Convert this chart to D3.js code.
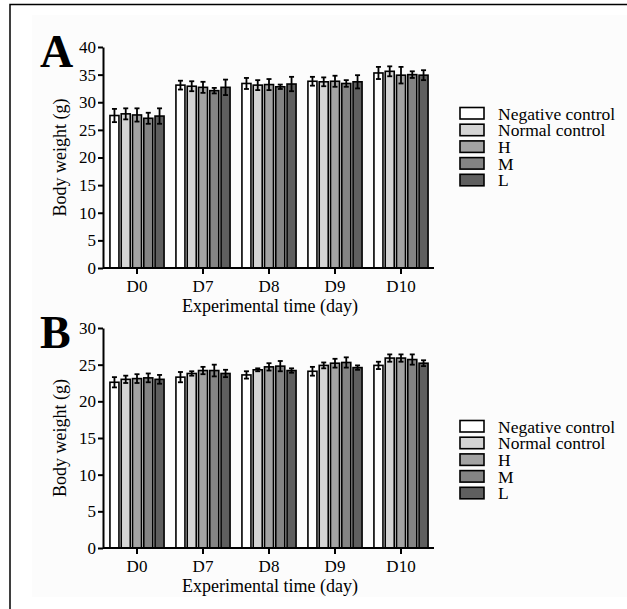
<!DOCTYPE html>
<html lang="en">
    <head>
        <meta charset="utf-8">
        <title>Body weight</title>
        <style type="text/css">
            body { margin: 0; background: #fff; }
            svg text { font-family: "Liberation Serif", "DejaVu Serif", serif !important; fill: #000; }
        </style>
    </head>
    <body>

<script src="https://d3js.org/d3.v7.min.js"></script>

<script>

    var w = 627;
    var h = 609;
    var serif = "'Liberation Serif', 'DejaVu Serif', serif";

    // data
    var days = ["D0", "D7", "D8", "D9", "D10"];
    var groups = ["Negative control", "Normal control", "H", "M", "L"];
    var colors = ["#ffffff", "#d4d4d4", "#a3a3a3", "#848484", "#5f5f5f"];

    // panel A
    var meanA = [
        [27.6, 27.9, 27.7, 27.1, 27.5],
        [33.1, 32.9, 32.7, 32.1, 32.7],
        [33.4, 33.1, 33.2, 32.8, 33.3],
        [33.8, 33.7, 33.8, 33.4, 33.7],
        [35.3, 35.6, 34.9, 35.0, 34.9]
    ];
    var errA = [
        [1.2, 1.0, 1.2, 1.0, 1.4],
        [0.8, 0.9, 1.0, 0.5, 1.4],
        [1.0, 0.9, 1.0, 0.4, 1.3],
        [0.8, 0.8, 1.0, 0.6, 1.2],
        [1.1, 0.9, 1.5, 0.6, 0.9]
    ];
    var ticksA = [0, 5, 10, 15, 20, 25, 30, 35, 40];

    // panel B
    var meanB = [
        [22.6, 23.0, 23.1, 23.2, 23.0],
        [23.3, 23.8, 24.2, 24.2, 23.8],
        [23.6, 24.3, 24.7, 24.8, 24.2],
        [24.1, 24.9, 25.2, 25.3, 24.6],
        [24.9, 25.9, 25.9, 25.7, 25.2]
    ];
    var errB = [
        [0.7, 0.5, 0.6, 0.6, 0.6],
        [0.7, 0.3, 0.5, 0.8, 0.5],
        [0.5, 0.2, 0.5, 0.7, 0.3],
        [0.6, 0.4, 0.6, 0.7, 0.3],
        [0.5, 0.5, 0.5, 0.7, 0.4]
    ];
    var ticksB = [0, 5, 10, 15, 20, 25, 30];

    var svg = d3.select("body")
            .append("svg")
            .attr("width", w)
            .attr("height", h)
            .attr("font-family", serif);

    // faint pasted-image background and outer frame
    svg.append("rect")
        .attr("x", 32).attr("y", 15)
        .attr("width", 595).attr("height", 582)
        .attr("fill", "#fcfcfc");
    svg.append("path")
        .attr("d", "M10," + h + "V4.5H" + w)
        .attr("fill", "none")
        .attr("stroke", "#000")
        .attr("stroke-width", 1.5);

    function drawPanel(opt) {
        var x0 = d3.scaleBand()
            .domain(days)
            .range([104, 434])
            .paddingInner(0.18)
            .paddingOuter(0.09);
        var x1 = d3.scaleBand()
            .domain(groups)
            .range([0, x0.bandwidth()])
            .paddingInner(0.2);
        var y = d3.scaleLinear()
            .domain([0, opt.max])
            .range([opt.bottom, opt.top]);

        var g = svg.append("g").attr("font-family", serif);

        var rows = [];
        days.forEach(function(d, i) {
            groups.forEach(function(k, j) {
                rows.push({day: d, group: k, j: j, v: opt.mean[i][j], e: opt.err[i][j]});
            });
        });

        g.selectAll("rect.bar")
            .data(rows)
            .enter()
            .append("rect")
            .attr("class", "bar")
            .attr("x", function(d) { return x0(d.day) + x1(d.group); })
            .attr("y", function(d) { return y(d.v); })
            .attr("width", x1.bandwidth())
            .attr("height", function(d) { return y(0) - y(d.v); })
            .attr("fill", function(d) { return colors[d.j]; })
            .attr("stroke", "#000")
            .attr("stroke-width", 1.6);

        // error bars
        function cx(d) { return x0(d.day) + x1(d.group) + x1.bandwidth() / 2; }
        var eb = g.selectAll("g.err")
            .data(rows)
            .enter()
            .append("g")
            .attr("stroke", "#000")
            .attr("stroke-width", 1.8);
        eb.append("line")
            .attr("x1", cx)
            .attr("x2", cx)
            .attr("y1", function(d) { return y(d.v - d.e); })
            .attr("y2", function(d) { return y(d.v + d.e); });
        eb.append("line")
            .attr("x1", function(d) { return cx(d) - 2.5; })
            .attr("x2", function(d) { return cx(d) + 2.5; })
            .attr("y1", function(d) { return y(d.v + d.e); })
            .attr("y2", function(d) { return y(d.v + d.e); });
        eb.append("line")
            .attr("x1", function(d) { return cx(d) - 2.5; })
            .attr("x2", function(d) { return cx(d) + 2.5; })
            .attr("y1", function(d) { return y(d.v - d.e); })
            .attr("y2", function(d) { return y(d.v - d.e); });

        // axes
        var ya = g.append("g")
            .attr("transform", "translate(103,0)")
            .call(d3.axisLeft(y).tickValues(opt.ticks).tickSize(5).tickSizeOuter(0).tickPadding(2));
        var xa = g.append("g")
            .attr("transform", "translate(0," + opt.bottom + ")")
            .call(d3.axisBottom(x0).tickSize(6).tickSizeOuter(0).tickPadding(6));
        xa.select(".domain").attr("d", "M103,0H434");

        [ya, xa].forEach(function(a) {
            a.attr("font-family", serif).attr("font-size", 17);
            a.selectAll("path, line").attr("stroke", "#000").attr("stroke-width", 2);
            a.selectAll("text").attr("fill", "#000");
        });

        // titles
        g.append("text")
            .attr("x", 270)
            .attr("y", opt.bottom + 44)
            .attr("text-anchor", "middle")
            .attr("font-size", 18)
            .text("Experimental time (day)");
        g.append("text")
            .attr("transform", "translate(66," + ((opt.top + opt.bottom) / 2) + ") rotate(-90)")
            .attr("text-anchor", "middle")
            .attr("font-size", 18)
            .text("Body weight (g)");
        g.append("text")
            .attr("x", 40)
            .attr("y", opt.top + 20)
            .attr("font-size", 46)
            .attr("font-weight", "bold")
            .text(opt.label);

        // legend
        var lg = g.selectAll("g.leg")
            .data(groups)
            .enter()
            .append("g")
            .attr("transform", function(d, i) { return "translate(460," + (opt.legTop + i * 16.7) + ")"; });
        lg.append("rect")
            .attr("width", 24)
            .attr("height", 11.5)
            .attr("fill", function(d, i) { return colors[i]; })
            .attr("stroke", "#000")
            .attr("stroke-width", 1.6);
        lg.append("text")
            .attr("x", 38)
            .attr("y", 12)
            .attr("font-size", 17.5)
            .text(function(d) { return d; });
    }

    drawPanel({label: "A", mean: meanA, err: errA, ticks: ticksA, max: 40, top: 47, bottom: 268, legTop: 107.5});
    drawPanel({label: "B", mean: meanB, err: errB, ticks: ticksB, max: 30, top: 328, bottom: 548, legTop: 420.5});

</script>

    </body>
</html>
